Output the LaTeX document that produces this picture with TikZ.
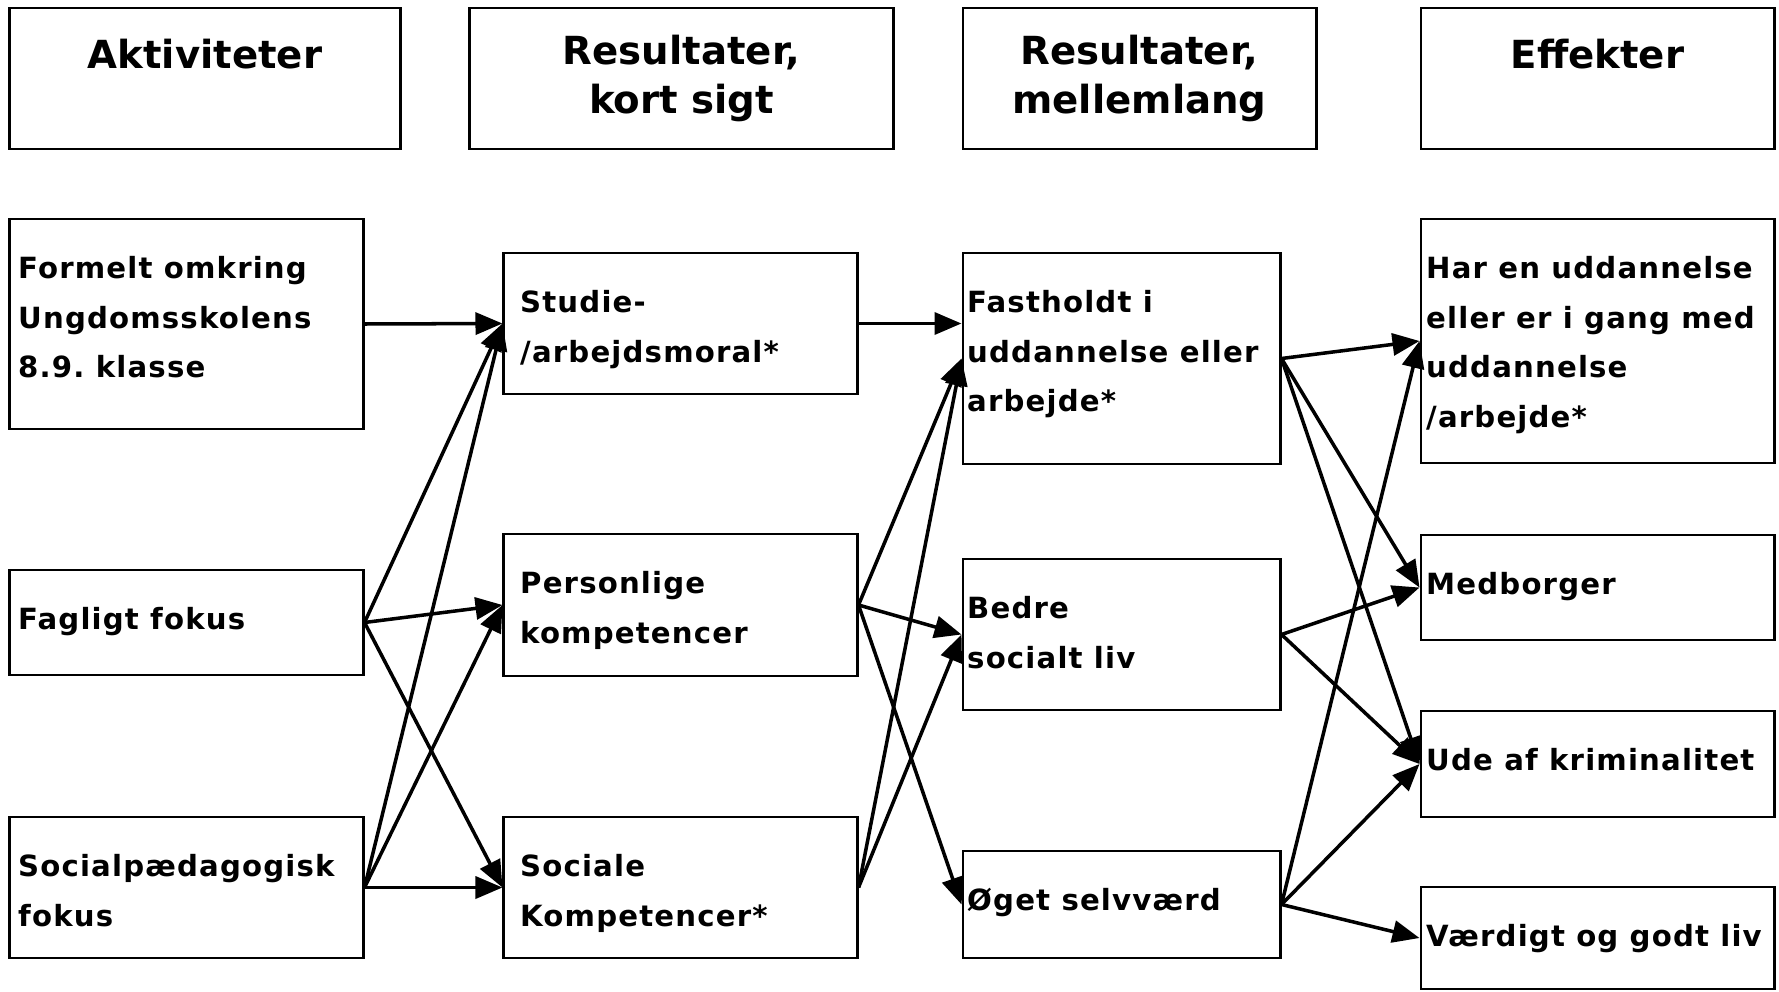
\documentclass[tikz,border=0pt]{standalone}
\usepackage{fontspec}
\usepackage{tikz}
\usetikzlibrary{arrows.meta, positioning, calc}
\newfontfamily\headfont{DejaVu Sans}
\newfontfamily\boxfont{DejaVu Sans}[LetterSpace=4]

\begin{document}
\begin{tikzpicture}[x=0.01cm, y=-0.01cm,
		head/.style={draw, line width=0.8pt, minimum height=1.41cm, align=center, inner ysep=0pt, font=\headfont\bfseries\fontsize{11pt}{14.2pt}\selectfont},
		box/.style={draw, line width=0.8pt, minimum width=3.53cm},
		txt/.style={align=left, inner sep=0pt, font=\boxfont\bfseries\frenchspacing\fontsize{8.3pt}{14.1pt}\selectfont},
		pil/.style={->, >={Triangle[length=2.7mm, width=2.2mm]}, line width=1pt}]
			\useasboundingbox (0,0) rectangle (1779,991);
			% Headers
			\node[head, minimum width=3.9cm] (hakt) at (205,78.5) {Aktiviteter\\~};
			\node[head, minimum width=4.23cm] (hkort) at (681.5,78.5) {Resultater,\\kort sigt};
			\node[head, minimum width=3.53cm] (hmell) at (1139.5,78.5) {Resultater,\\mellemlang};
			\node[head, minimum width=3.53cm] (heff) at (1597.5,78.5) {Effekter\\~};
			% Activities
			\node[box, minimum height=2.1cm] (formelt) at (186.5,324) {};
			\node[box, minimum height=1.05cm] (fagligt) at (186.5,622.5) {};
			\node[box, minimum height=1.41cm] (socped) at (186.5,887.5) {};
			\node[txt, below right=0.38cm and 0.09cm of formelt.north west] (formelt-t) {Formelt omkring\\Ungdomsskolens\\8.9. klasse};
			\node[txt, below right=0.38cm and 0.09cm of fagligt.north west] (fagligt-t) {Fagligt fokus};
			\node[txt, below right=0.38cm and 0.09cm of socped.north west] (socped-t) {Socialpædagogisk\\fokus};
			% Short term
			\node[box, minimum height=1.41cm] (studie) at (680.5,323.5) {};
			\node[box, minimum height=1.42cm] (personlig) at (680.5,605) {};
			\node[box, minimum height=1.41cm] (sociale) at (680.5,887.5) {};
			\node[txt, below right=0.38cm and 0.17cm of studie.north west] (studie-t) {Studie-\\/arbejdsmoral*};
			\node[txt, below right=0.38cm and 0.17cm of personlig.north west] (personlig-t) {Personlige\\kompetencer};
			\node[txt, below right=0.38cm and 0.17cm of sociale.north west] (sociale-t) {Sociale\\Kompetencer*};
			% Medium term
			\node[box, minimum width=3.17cm, minimum height=2.11cm] (fast) at (1121.5,358.5) {};
			\node[box, minimum width=3.17cm, minimum height=1.51cm] (bedre) at (1121.5,634.5) {};
			\node[box, minimum width=3.17cm, minimum height=1.07cm] (oeget) at (1121.5,904.5) {};
			\node[txt, below right=0.38cm and 0.05cm of fast.north west] (fast-t) {Fastholdt i\\uddannelse eller\\arbejde*};
			\node[txt, below right=0.38cm and 0.05cm of bedre.north west] (bedre-t) {Bedre\\socialt liv};
			\node[txt, below right=0.38cm and 0.05cm of oeget.north west] (oeget-t) {Øget selvværd};
			% Effects
			\node[box, minimum height=2.44cm] (haren) at (1597.5,341) {};
			\node[box, minimum height=1.05cm] (medb) at (1597.5,587.5) {};
			\node[box, minimum height=1.06cm] (ude) at (1597.5,764) {};
			\node[box, minimum height=1.02cm] (vaerd) at (1597.5,938) {};
			\node[txt, below right=0.38cm and 0.06cm of haren.north west] (haren-t) {Har en uddannelse\\eller er i gang med\\uddannelse\\/arbejde*};
			\node[txt, below right=0.38cm and 0.06cm of medb.north west] (medb-t) {Medborger};
			\node[txt, below right=0.38cm and 0.06cm of ude.north west] (ude-t) {Ude af kriminalitet};
			\node[txt, below right=0.38cm and 0.06cm of vaerd.north west] (vaerd-t) {Værdigt og godt liv};
			% Arrows
			\draw[pil] (formelt.east) -- (studie.west);
			\draw[pil] (fagligt.east) -- (studie.west);
			\draw[pil] (fagligt.east) -- (personlig.west);
			\draw[pil] (fagligt.east) -- (sociale.west);
			\draw[pil] (socped.east) -- (studie.west);
			\draw[pil] (socped.east) -- (personlig.west);
			\draw[pil] (socped.east) -- (sociale.west);
			\draw[pil] (studie.east) -- (studie.east -| fast.west);
			\draw[pil] (personlig.east) -- (fast.west);
			\draw[pil] (personlig.east) -- (bedre.west);
			\draw[pil] (personlig.east) -- (oeget.west);
			\draw[pil] (sociale.east) -- (fast.west);
			\draw[pil] (sociale.east) -- (bedre.west);
			\draw[pil] (fast.east) -- (haren.west);
			\draw[pil] (fast.east) -- (medb.west);
			\draw[pil] (fast.east) -- (ude.west);
			\draw[pil] (bedre.east) -- (medb.west);
			\draw[pil] (bedre.east) -- (ude.west);
			\draw[pil] (oeget.east) -- (haren.west);
			\draw[pil] (oeget.east) -- (ude.west);
			\draw[pil] (oeget.east) -- (vaerd.west);
		\end{tikzpicture}
\end{document}
